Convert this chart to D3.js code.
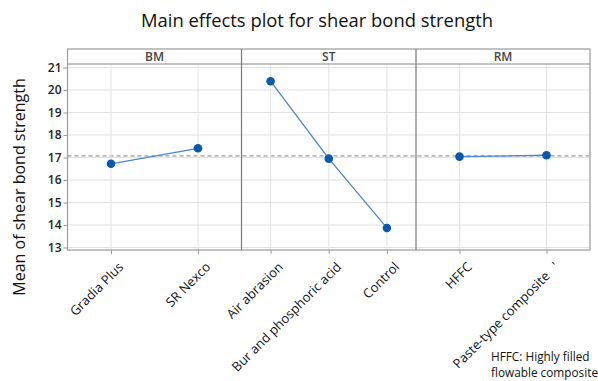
<!DOCTYPE html>
<html>
<head>
<meta charset="utf-8">
<script src="https://cdn.jsdelivr.net/npm/d3@7"></script>
<style>
  body { margin: 0; background: #fff; }
  svg { font-family: "Open Sans", sans-serif; }
</style>
</head>
<body>
<svg width="598" height="381"></svg>
<script>
// data
const factors = ['BM', 'ST', 'RM'];
const bmLevels = ['Gradia Plus', 'SR Nexco'];
const bmMeans = [16.72, 17.41];
const stLevels = ['Air abrasion', 'Bur and phosphoric acid', 'Control'];
const stMeans = [20.39, 16.95, 13.87];
const rmLevels = ['HFFC', 'Paste-type composite   \''];
const rmMeans = [17.04, 17.10];
const grandMean = 17.07;
const yTicks = [13, 14, 15, 16, 17, 18, 19, 20, 21];

const svg = d3.select('svg');
const width = +svg.attr('width');
const height = +svg.attr('height');

const frame = {left: 67.5, right: 590, top: 49, stripBottom: 64, bottom: 250};
const panelEdges = [67.5, 241.5, 416, 590];

const y = d3.scaleLinear().domain([13, 21]).range([247.5, 67.5]);

const panels = [
  {name: factors[0], levels: bmLevels, means: bmMeans},
  {name: factors[1], levels: stLevels, means: stMeans},
  {name: factors[2], levels: rmLevels, means: rmMeans}
];

// title
svg.append('text')
  .attr('x', 317).attr('y', 27)
  .attr('text-anchor', 'middle')
  .style('font-size', '18.4px')
  .style('fill', '#111')
  .text('Main effects plot for shear bond strength');

// y label
svg.append('text')
  .attr('transform', 'translate(25,187) rotate(-90)')
  .attr('text-anchor', 'middle')
  .style('font-size', '16px')
  .style('fill', '#111')
  .text('Mean of shear bond strength');

// horizontal grid
svg.append('g').selectAll('line')
  .data(yTicks).enter().append('line')
  .attr('x1', frame.left).attr('x2', frame.right)
  .attr('y1', d => y(d)).attr('y2', d => y(d))
  .attr('stroke', '#e2e2e2').attr('stroke-width', 1);

// y axis
const yAxis = svg.append('g')
  .attr('transform', `translate(${frame.left},0)`)
  .call(d3.axisLeft(y).tickValues(yTicks).tickSize(4).tickPadding(2));
yAxis.select('.domain').remove();
yAxis.selectAll('.tick line').attr('stroke', '#999');
yAxis.selectAll('.tick text')
  .style('font-family', '"Open Sans", sans-serif')
  .style('font-size', '12px')
  .style('font-weight', '600')
  .style('fill', '#222');

// mean reference line
svg.append('line')
  .attr('x1', frame.left).attr('x2', frame.right)
  .attr('y1', y(grandMean)).attr('y2', y(grandMean))
  .attr('stroke', '#9a9a9a').attr('stroke-width', 1.2)
  .attr('stroke-dasharray', '4,3');

panels.forEach((p, i) => {
  const x0 = panelEdges[i], x1 = panelEdges[i + 1];
  const x = d3.scalePoint().domain(p.levels).range([x0, x1]).padding(0.5);
  const g = svg.append('g');

  // vertical grid
  g.selectAll('line.vgrid')
    .data(p.levels).enter().append('line')
    .attr('class', 'vgrid')
    .attr('x1', d => x(d)).attr('x2', d => x(d))
    .attr('y1', frame.stripBottom).attr('y2', frame.bottom)
    .attr('stroke', '#e2e2e2');

  // x axis
  const xAxis = g.append('g')
    .attr('transform', `translate(0,${frame.bottom})`)
    .call(d3.axisBottom(x).tickSize(4).tickPadding(2));
  xAxis.select('.domain').remove();
  xAxis.selectAll('.tick line').attr('stroke', '#999');
  xAxis.selectAll('.tick text')
    .attr('text-anchor', 'end')
    .attr('transform', 'translate(2,7) rotate(-45)')
    .attr('xml:space', 'preserve')
    .style('white-space', 'pre')
    .style('font-family', '"Open Sans", sans-serif')
    .style('font-size', '13px')
    .style('fill', '#111');

  // line + points
  const pts = p.levels.map((l, k) => [x(l), y(p.means[k])]);
  g.append('path')
    .attr('d', d3.line()(pts))
    .attr('fill', 'none')
    .attr('stroke', '#4a86cf').attr('stroke-width', 1.3);
  g.selectAll('circle')
    .data(pts).enter().append('circle')
    .attr('cx', d => d[0]).attr('cy', d => d[1]).attr('r', 4.3)
    .attr('fill', '#0b58ad');

  // strip label
  g.append('text')
    .attr('x', (x0 + x1) / 2).attr('y', 61)
    .attr('text-anchor', 'middle')
    .style('font-size', '12px')
    .style('font-weight', '600')
    .style('fill', '#444')
    .text(p.name);
});

// frame, strip and panel dividers
svg.append('rect')
  .attr('x', frame.left).attr('y', frame.top)
  .attr('width', frame.right - frame.left).attr('height', frame.bottom - frame.top)
  .attr('fill', 'none').attr('stroke', '#a0a0a0').attr('stroke-width', 1.3);
svg.append('line')
  .attr('x1', frame.left).attr('x2', frame.right)
  .attr('y1', frame.stripBottom).attr('y2', frame.stripBottom)
  .attr('stroke', '#8a8a8a').attr('stroke-width', 1.2);
svg.append('g').selectAll('line')
  .data(panelEdges.slice(1, 3)).enter().append('line')
  .attr('x1', d => d).attr('x2', d => d)
  .attr('y1', frame.top).attr('y2', frame.bottom)
  .attr('stroke', '#7a7a7a').attr('stroke-width', 1.2);

// note
const note = svg.append('text')
  .attr('x', 491).attr('y', 361)
  .style('font-size', '11.8px')
  .style('fill', '#111');
note.append('tspan').attr('x', 491).text('HFFC: Highly filled');
note.append('tspan').attr('x', 491).attr('dy', 16).text('flowable composite');
</script>
</body>
</html>
